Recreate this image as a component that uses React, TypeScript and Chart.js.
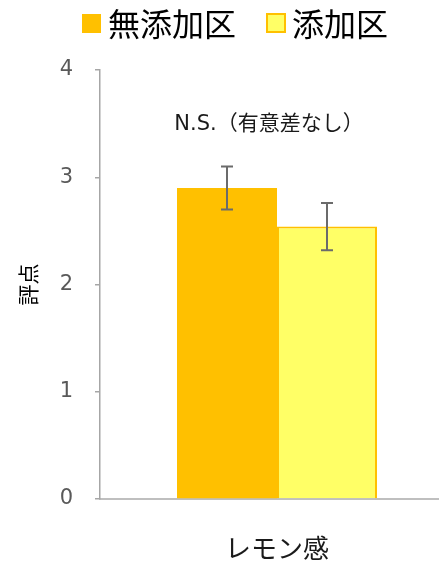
import React, { useEffect, useRef } from "react";
import { Chart, registerables } from "chart.js";

Chart.register(...registerables);

const categories = ["レモン感"];
const seriesNames = ["無添加区", "添加区"];
const noAdditiveValues = [2.9];
const additiveValues = [2.54];
const noAdditiveErrors = [0.2];
const additiveErrors = [0.22];
const yTickValues = [0, 1, 2, 3, 4];
const yTitle = "評点";
const annotationText = "N.S.（有意差なし）";
const annotationValue = 3.49;

const ORANGE = "#FFC000";
const YELLOW = "#FFFF66";
const JP = "'Noto Sans CJK JP', 'Noto Sans CJK SC', sans-serif";
const LATIN = "'DejaVu Sans', 'Noto Sans CJK JP', sans-serif";

const errorBarPlugin = {
  id: "errorBars",
  afterDatasetsDraw(chart: any) {
    const ctx = chart.ctx;
    const yScale = chart.scales.y;
    chart.data.datasets.forEach((ds: any, i: number) => {
      const meta = chart.getDatasetMeta(i);
      meta.data.forEach((bar: any, j: number) => {
        const v = ds.data[j];
        const e = ds.errors[j];
        const yt = yScale.getPixelForValue(v + e);
        const yb = yScale.getPixelForValue(v - e);
        const x = bar.x;
        ctx.save();
        ctx.strokeStyle = "#6b6b6b";
        ctx.lineWidth = 2;
        ctx.beginPath();
        ctx.moveTo(x, yt);
        ctx.lineTo(x, yb);
        ctx.moveTo(x - 6, yt);
        ctx.lineTo(x + 6, yt);
        ctx.moveTo(x - 6, yb);
        ctx.lineTo(x + 6, yb);
        ctx.stroke();
        ctx.restore();
      });
    });
  },
};

const annotationPlugin = {
  id: "nsAnnotation",
  afterDraw(chart: any) {
    const ctx = chart.ctx;
    const xScale = chart.scales.x;
    const yScale = chart.scales.y;
    const x = xScale.getPixelForValue(0) - 8;
    const y = yScale.getPixelForValue(annotationValue);
    ctx.save();
    ctx.font = `21px ${LATIN}`;
    ctx.fillStyle = "#1a1a1a";
    ctx.textAlign = "center";
    ctx.textBaseline = "middle";
    ctx.fillText(annotationText, x, y);
    ctx.restore();
  },
};

export default function App() {
  const canvasRef = useRef<HTMLCanvasElement | null>(null);

  useEffect(() => {
    const canvas = canvasRef.current;
    if (!canvas) return;
    const chart = new Chart(canvas, {
      type: "bar",
      data: {
        labels: categories,
        datasets: [
          {
            label: seriesNames[0],
            data: noAdditiveValues,
            errors: noAdditiveErrors,
            backgroundColor: ORANGE,
            borderColor: ORANGE,
            borderWidth: 0,
            barPercentage: 1,
            categoryPercentage: 200 / 354,
          } as any,
          {
            label: seriesNames[1],
            data: additiveValues,
            errors: additiveErrors,
            backgroundColor: YELLOW,
            borderColor: ORANGE,
            borderWidth: 2,
            barPercentage: 1,
            categoryPercentage: 200 / 354,
          } as any,
        ],
      },
      options: {
        animation: false,
        responsive: false,
        devicePixelRatio: 1,
        layout: { padding: { top: 70, left: 0, right: 0, bottom: 0 } },
        plugins: {
          legend: { display: false },
          tooltip: { enabled: false },
        },
        scales: {
          x: {
            grid: { display: true, drawOnChartArea: false, drawTicks: false },
            border: { display: true, color: "#bfbfbf", width: 2 },
            ticks: {
              padding: 34,
              color: "#1a1a1a",
              font: { family: JP, size: 26 },
            },
            afterFit: (scale: any) => {
              scale.height = 65;
            },
          },
          y: {
            min: 0,
            max: 4,
            afterBuildTicks: (scale: any) => {
              scale.ticks = yTickValues.map((v) => ({ value: v }));
            },
            grid: {
              drawOnChartArea: false,
              drawTicks: true,
              tickLength: 5,
              color: "#a6a6a6",
              lineWidth: 1.5,
            },
            border: { display: true, color: "#a6a6a6", width: 1.5 },
            ticks: {
              padding: 22,
              color: "#595959",
              font: { family: LATIN, size: 21 },
            },
            title: {
              display: true,
              text: yTitle,
              color: "#000",
              font: { family: JP, size: 21 },
              padding: { top: 15, bottom: 0 },
            },
            afterFit: (scale: any) => {
              scale.width = 100;
            },
          },
        },
      } as any,
      plugins: [errorBarPlugin, annotationPlugin],
    });
    return () => chart.destroy();
  }, []);

  const textStyle: React.CSSProperties = {
    position: "absolute",
    top: 6,
    fontFamily: JP,
    fontSize: 32,
    lineHeight: 1,
    color: "#000",
    whiteSpace: "nowrap",
  };

  return (
    <div
      style={{
        position: "fixed",
        left: 0,
        top: 0,
        width: 439,
        height: 564,
        overflow: "hidden",
        background: "#fff",
      }}
    >
      <canvas
        ref={canvasRef}
        width={454}
        height={564}
        style={{ position: "absolute", left: 0, top: 0, width: 454, height: 564 }}
      />
      <div
        style={{
          position: "absolute",
          left: 82,
          top: 14,
          width: 19,
          height: 19,
          background: ORANGE,
        }}
      />
      <span style={{ ...textStyle, left: 108 }}>{seriesNames[0]}</span>
      <div
        style={{
          position: "absolute",
          left: 266,
          top: 13,
          width: 20,
          height: 20,
          boxSizing: "border-box",
          background: YELLOW,
          border: `2px solid ${ORANGE}`,
        }}
      />
      <span style={{ ...textStyle, left: 292 }}>{seriesNames[1]}</span>
    </div>
  );
}
